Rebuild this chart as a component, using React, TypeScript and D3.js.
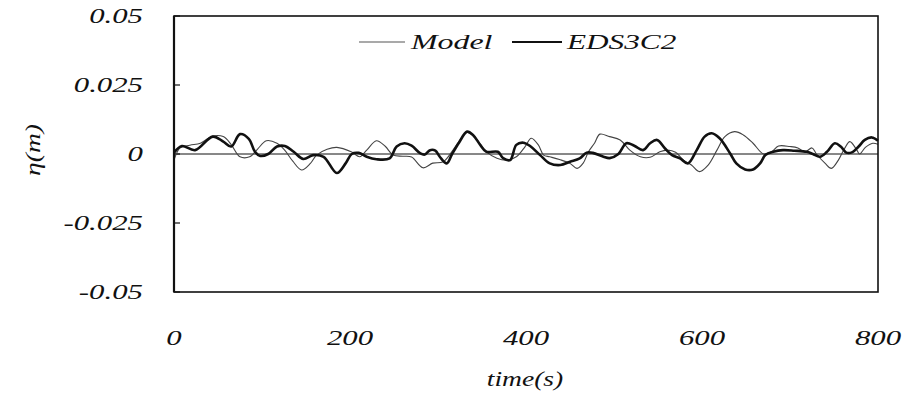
import React from "react";
import * as d3 from "d3";

const edsTime = [0, 9, 24, 44, 56, 65, 75, 85, 92, 98, 107, 117, 126, 136, 147, 158, 170, 185, 195, 202, 210, 219, 230, 245, 253, 262, 270, 280, 285, 291, 297, 302, 310, 316, 324, 333, 340, 348, 355, 368, 374, 382, 389, 397, 405, 416, 427, 439, 450, 461, 469, 476, 488, 495, 505, 514, 523, 533, 541, 549, 558, 566, 575, 584, 594, 603, 611, 620, 632, 639, 649, 658, 666, 672, 681, 692, 705, 719, 726, 734, 742, 751, 758, 764, 771, 778, 785, 793, 800];
const edsEta = [0.0005, 0.0029, 0.0014, 0.0063, 0.0045, 0.0027, 0.0072, 0.0055, 0.0008, -0.0007, 0.0, 0.0027, 0.0029, 0.0008, -0.0018, -0.0004, -0.001, -0.0069, -0.0034, 0.0, 0.0004, -0.001, -0.0019, -0.0016, 0.0027, 0.0039, 0.003, 0.0002, -0.0002, 0.0014, 0.0012, -0.001, -0.0034, 0.0, 0.0042, 0.0081, 0.0068, 0.0033, 0.0008, 0.0008, -0.0015, -0.0022, 0.0033, 0.0041, 0.0028, -0.0004, -0.0034, -0.004, -0.0028, -0.0016, 0.0005, 0.0004, -0.001, -0.0015, 0.0, 0.0039, 0.003, 0.0014, 0.0039, 0.0051, 0.002, -0.0004, -0.0016, -0.0034, 0.0014, 0.0063, 0.0075, 0.0057, 0.0002, -0.0034, -0.0056, -0.0056, -0.0034, -0.0004, 0.0008, 0.0014, 0.0012, 0.0008, 0.0, -0.001, 0.0008, 0.0039, 0.0026, 0.0005, 0.0007, 0.0027, 0.0051, 0.006, 0.0048];

const modelTime = [0, 7, 18, 30, 44, 56, 65, 75, 86, 95, 105, 117, 126, 135, 145, 155, 162, 174, 185, 202, 211, 219, 230, 240, 249, 260, 270, 283, 294, 306, 317, 326, 333, 341, 348, 355, 367, 378, 389, 399, 406, 414, 420, 427, 438, 450, 458, 465, 471, 478, 484, 495, 507, 518, 530, 541, 552, 561, 570, 579, 588, 597, 607, 617, 626, 637, 647, 658, 670, 679, 687, 700, 709, 717, 725, 730, 740, 747, 755, 762, 768, 776, 779, 786, 794, 800];
const modelEta = [-0.0022, 0.0022, 0.0032, 0.0039, 0.0065, 0.0063, 0.0034, -0.001, -0.001, 0.0018, 0.0048, 0.0039, 0.0013, -0.0026, -0.0058, -0.0034, -0.0004, 0.0017, 0.0024, 0.0007, -0.001, 0.0014, 0.0048, 0.0028, -0.0004, -0.0008, -0.0011, -0.005, -0.0033, -0.0028, 0.0014, 0.0055, 0.0078, 0.0065, 0.0035, 0.0008, -0.0015, -0.0022, -0.001, 0.0027, 0.0057, 0.0033, -0.0004, -0.001, -0.002, -0.0034, -0.0052, -0.0033, 0.0008, 0.004, 0.0072, 0.0063, 0.0051, 0.0014, -0.001, -0.0012, 0.0008, 0.0014, 0.0006, -0.0022, -0.004, -0.0064, -0.004, 0.0014, 0.0063, 0.0081, 0.0069, 0.0039, 0.0, 0.0008, 0.0029, 0.0027, 0.0022, 0.0008, 0.0022, 0.0, -0.0034, -0.0052, -0.0022, 0.002, 0.0045, 0.0014, 0.0, 0.0025, 0.0039, 0.0035];

const xTicks = [0, 200, 400, 600, 800];
const yTicks = [0.05, 0.025, 0, -0.025, -0.05];
const yTickLabels = ["0.05", "0.025", "0", "-0.025", "-0.05"];
const seriesNames = ["Model", "EDS3C2"];

const W = 907;
const H = 395;
const L = 174, R = 878, T = 16, B = 292;
const FONT = "'Liberation Serif', 'Times New Roman', serif";
const SX = 1.4;

export default function App() {
  const x = d3.scaleLinear().domain([0, 800]).range([L, R]);
  const y = d3.scaleLinear().domain([-0.05, 0.05]).range([B, T]);
  const line = d3
    .line<[number, number]>()
    .x((d) => x(d[0]))
    .y((d) => y(d[1]))
    .curve(d3.curveCatmullRom.alpha(0.5));
  const modelPts = modelTime.map((t, i) => [t, modelEta[i]] as [number, number]);
  const edsPts = edsTime.map((t, i) => [t, edsEta[i]] as [number, number]);

  const txt = (
    key: string,
    px: number,
    py: number,
    s: string,
    anchor: "start" | "middle" | "end",
    size = 22,
    sx = SX
  ) => (
    <text
      key={key}
      transform={`translate(${px},${py}) scale(${sx},1)`}
      textAnchor={anchor}
      fontFamily={FONT}
      fontStyle="italic"
      fontSize={size}
      fill="#111"
    >
      {s}
    </text>
  );

  return (
    <svg
      width={W}
      height={H}
      style={{ position: "absolute", left: 0, top: 0, background: "#fff" }}
    >
      <rect x={0} y={0} width={W} height={H} fill="#fff" />
      {/* zero line */}
      <line x1={L} x2={R} y1={y(0)} y2={y(0)} stroke="#111" strokeWidth={1} />
      {/* y ticks inside */}
      {yTicks.map((v) => (
        <line key={"yt" + v} x1={L} x2={L + 6} y1={y(v)} y2={y(v)} stroke="#111" strokeWidth={1.2} />
      ))}
      {/* series */}
      <path d={line(modelPts) || ""} fill="none" stroke="#444" strokeWidth={1.1} />
      <path d={line(edsPts) || ""} fill="none" stroke="#111" strokeWidth={2.6} />
      {/* frame */}
      <rect x={L} y={T} width={R - L} height={B - T} fill="none" stroke="#111" strokeWidth={1.6} />
      <line x1={L} x2={L} y1={T} y2={B} stroke="#111" strokeWidth={2.2} />
      {/* y tick labels */}
      {yTicks.map((v, i) => txt("yl" + i, 143, y(v) + 7, yTickLabels[i], "end"))}
      {/* x tick labels */}
      {xTicks.map((v) => txt("xl" + v, x(v), 345, String(v), "middle"))}
      {/* axis titles */}
      {txt("xt", 525, 386, "time(s)", "middle", 22, 1.25)}
      <text
        transform={`translate(40,150) rotate(-90) scale(1.25,1)`}
        textAnchor="middle"
        fontFamily={FONT}
        fontStyle="italic"
        fontSize={22}
        fill="#111"
      >
        η(m)
      </text>
      {/* legend */}
      <line x1={359} x2={405} y1={42} y2={42} stroke="#555" strokeWidth={1.1} />
      {txt("lg0", 411, 49, seriesNames[0], "start", 22, 1.45)}
      <line x1={512} x2={562} y1={42} y2={42} stroke="#111" strokeWidth={2} />
      {txt("lg1", 567, 49, seriesNames[1], "start", 22, 1.42)}
    </svg>
  );
}
